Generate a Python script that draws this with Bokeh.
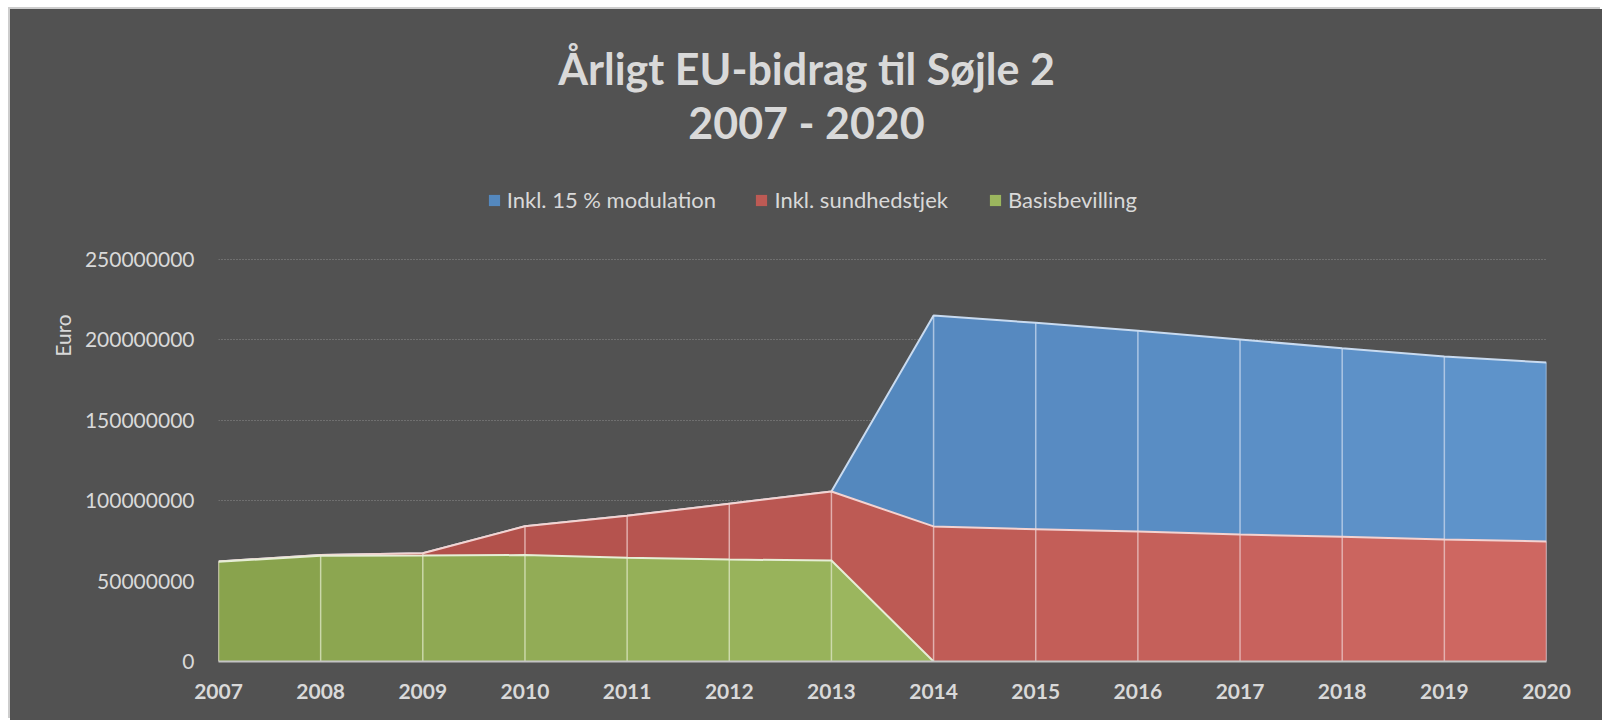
from bokeh.plotting import figure
from bokeh.models import Label, Legend, LegendItem, FixedTicker, Range1d
from bokeh.embed import file_html
from bokeh.resources import INLINE

# ---------------- data ----------------
years = [2007, 2008, 2009, 2010, 2011, 2012, 2013, 2014, 2015, 2016, 2017, 2018, 2019, 2020]
modulation = [62.2e6, 66.3e6, 67.3e6, 84.1e6, 90.6e6, 98.1e6, 105.7e6,
              215.2e6, 210.6e6, 205.7e6, 200.2e6, 194.8e6, 189.7e6, 185.9e6]
sundhedstjek = [62.2e6, 66.3e6, 67.3e6, 84.1e6, 90.6e6, 98.1e6, 105.7e6,
                84.0e6, 82.3e6, 80.8e6, 79.0e6, 77.6e6, 75.9e6, 74.6e6]
basis = [62.0e6, 65.8e6, 65.9e6, 66.2e6, 64.5e6, 63.4e6, 62.8e6,
         0, 0, 0, 0, 0, 0, 0]
series_names = ["Inkl. 15 % modulation", "Inkl. sundhedstjek", "Basisbevilling"]
y_ticks = [0, 50000000, 100000000, 150000000, 200000000, 250000000]
y_tick_labels = [str(t) for t in y_ticks]
title_lines = ["Årligt EU-bidrag til Søjle 2", "2007 - 2020"]
y_label = "Euro"

# ---------------- style / layout ----------------
BG = "#525252"
TXT = "#d9d9d9"
FONT = "Lato"
W, H = 1592, 711
ML, MT = 10, 9                 # page margin (left, top)
FL, FR, FB = 208, 56, 59       # frame borders inside canvas (frame reaches canvas top)
AXIS_TOP_PAGE_Y = 259          # page y of the top tick value
fw = W - FL - FR
fh = H - FB
zero_page_y = MT + fh
px_per_unit = (zero_page_y - AXIS_TOP_PAGE_Y) / y_ticks[-1]
y_top = fh / px_per_unit

p = figure(width=W, height=H, output_backend="svg", toolbar_location=None,
           x_range=Range1d(years[0], years[-1]), y_range=Range1d(0, y_top),
           min_border_left=FL, min_border_right=FR, min_border_top=0, min_border_bottom=FB,
           background_fill_color=BG, border_fill_color=BG,
           margin=(MT, 0, 0, ML))
p.outline_line_color = None
p.title.visible = False
p.styles = {"box-shadow": "-2px -2px 0 0 #cdcdcd, 8px 8px 0 0 %s" % BG,
            "background-color": BG,
            "outline": "3px solid %s" % BG, "outline-offset": "-3px"}


def xd(page_x):
    return years[0] + (page_x - ML - FL) * (years[-1] - years[0]) / fw


def yd(page_y):
    return (zero_page_y - page_y) / px_per_unit


def hex2rgb(h):
    h = h.lstrip("#")
    return tuple(int(h[i:i + 2], 16) for i in (0, 2, 4))


def lerp(c0, c1, t):
    a, b = hex2rgb(c0), hex2rgb(c1)
    return "#%02x%02x%02x" % tuple(int(round(a[k] + (b[k] - a[k]) * t)) for k in range(3))


span = years[-1] - years[0]
styles = [
    # (values, grad start, grad end, outline, dropline)
    (modulation, "#4a7bb2", "#5f94cb", "#c9dbf0", "#bcd1ec"),
    (sundhedstjek, "#ab4b46", "#cf6862", "#f3d3d1", "#e9bbb8"),
    (basis, "#88a14c", "#aecb70", "#e6eed6", "#d3e0b6"),
]

legend_renderers = []
for vals, c0, c1, oc, dc in styles:
    rep = None
    for i in range(len(years) - 1):
        if vals[i] == 0 and vals[i + 1] == 0:
            continue
        t = ((years[i] + years[i + 1]) / 2 - years[0]) / span
        r = p.varea(x=[years[i], years[i + 1]], y1=[0, 0], y2=[vals[i], vals[i + 1]],
                    fill_color=lerp(c0, c1, t))
        if rep is None or i == 6:
            rep = r
    legend_renderers.append(rep)
    # drop lines
    xs = [x for x, v in zip(years, vals) if v > 0]
    vs = [v for v in vals if v > 0]
    p.segment(x0=xs, y0=[0] * len(xs), x1=xs, y1=vs, line_color=dc, line_width=1.5, line_alpha=0.85)
    # top outline
    n = min(max(i for i, v in enumerate(vals) if v > 0) + 2, len(years))
    p.line(years[:n], vals[:n], line_color=oc, line_width=2)

# axes
p.xaxis.ticker = FixedTicker(ticks=years)
p.xaxis.major_label_overrides = {y: str(y) for y in years}
p.xaxis.major_label_text_font = FONT
p.xaxis.major_label_text_font_style = "bold"
p.xaxis.major_label_text_font_size = "21px"
p.xaxis.major_label_text_color = TXT
p.xaxis.major_label_standoff = 16
p.xaxis.major_tick_line_color = None
p.xaxis.minor_tick_line_color = None
p.xaxis.axis_line_color = "#c4c4c4"
p.xaxis.axis_line_width = 2

p.yaxis.ticker = FixedTicker(ticks=y_ticks)
p.yaxis.major_label_overrides = dict(zip(y_ticks, y_tick_labels))
p.yaxis.major_label_text_font = FONT
p.yaxis.major_label_text_font_size = "21px"
p.yaxis.major_label_text_color = TXT
p.yaxis.major_label_standoff = 18
p.yaxis.major_tick_line_color = None
p.yaxis.minor_tick_line_color = None
p.yaxis.axis_line_color = None
p.yaxis.axis_label = y_label
p.yaxis.axis_label_text_font = FONT
p.yaxis.axis_label_text_font_size = "21px"
p.yaxis.axis_label_text_font_style = "normal"
p.yaxis.axis_label_text_color = TXT
p.yaxis.axis_label_standoff = 7

p.xgrid.grid_line_color = None
p.ygrid.grid_line_color = "#8c8c8c"
p.ygrid.grid_line_dash = "1 2"
p.ygrid.grid_line_width = 1

# title
for txt, base in zip(title_lines, [68, 122]):
    p.add_layout(Label(x=xd(806), y=yd(base), text=txt, text_align="center",
                       text_baseline="alphabetic", text_font=FONT, text_font_style="bold",
                       text_font_size="43px", text_color=TXT))

# legend (one per item, placed at the reference swatch positions)
for name, rend, gx in zip(series_names, legend_renderers, [486.7, 754.4, 988.0]):
    lg = Legend(items=[LegendItem(label=name, renderers=[rend])],
                location=(gx - ML - FL, zero_page_y - 213),
                orientation="horizontal", padding=0, margin=0, spacing=0,
                glyph_width=14, glyph_height=14, label_standoff=6,
                label_text_font=FONT, label_text_font_size="22px", label_text_color=TXT,
                background_fill_alpha=0, border_line_color=None)
    p.add_layout(lg)

open("out.html", "w").write(file_html(p, INLINE))
